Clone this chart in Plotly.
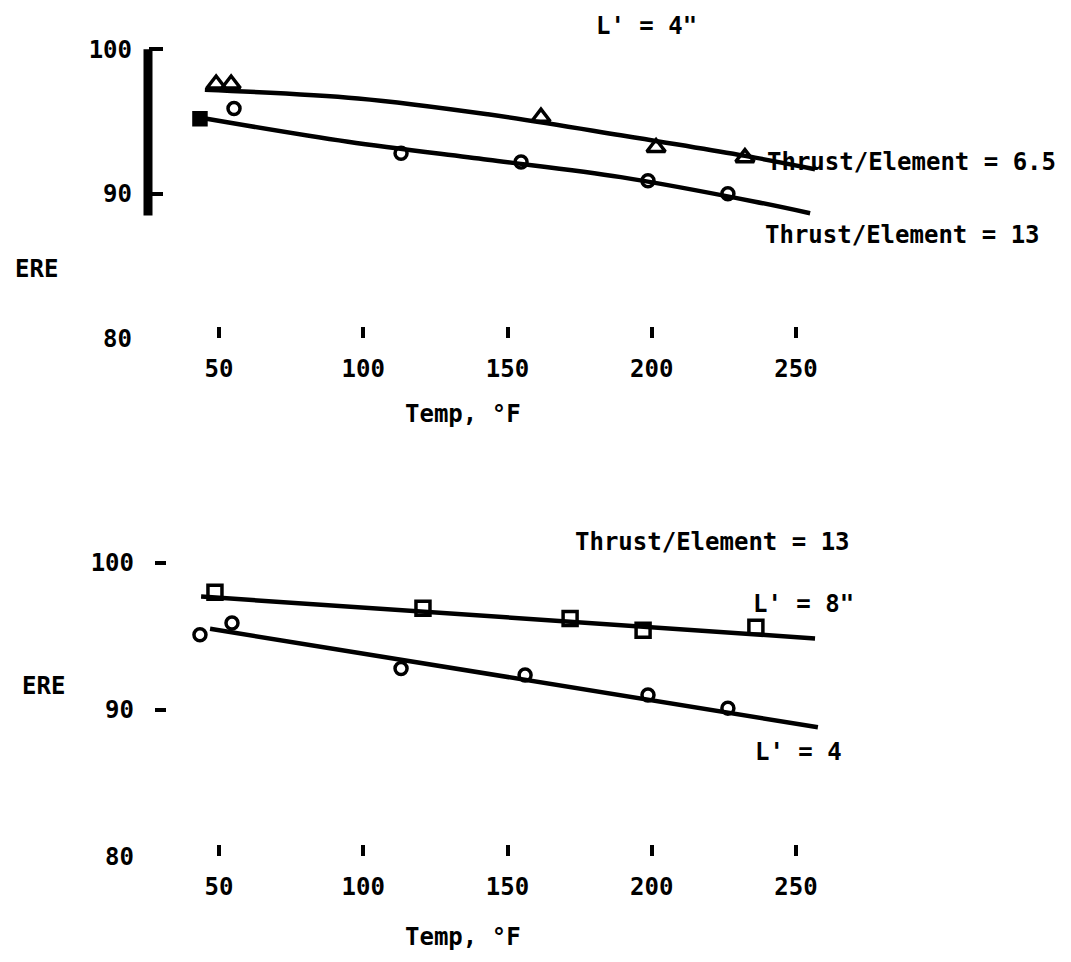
import plotly.graph_objects as go

W, H = 1071, 962

# ---------------- data ----------------
tick_vals_x = [50, 100, 150, 200, 250]
tick_vals_y = [80, 90, 100]

# Top panel (L' = 4")
temp_t65 = [49.0, 54.2, 161.6, 201.5, 232.3]          # Thrust/Element = 6.5 (triangles)
ere_t65 = [97.6, 97.6, 95.3, 93.2, 92.5]
temp_t13 = [43.4, 55.2, 113.1, 154.7, 198.7, 226.4]   # Thrust/Element = 13 (circles)
ere_t13 = [95.2, 95.9, 92.8, 92.2, 90.9, 90.0]

fit_t65_temp = [45.1, 98.2, 143.2, 189.3, 235.8, 256.6]
fit_t65_ere = [97.2, 96.6, 95.5, 94.05, 92.5, 91.7]
fit_t13_temp = [42.7, 94.7, 143.2, 189.3, 235.8, 254.9]
fit_t13_ere = [95.3, 93.6, 92.35, 91.15, 89.45, 88.65]

# Bottom panel (Thrust/Element = 13)
temp_l8 = [48.6, 120.7, 171.7, 197.0, 236.1]          # L' = 8" (squares)
ere_l8 = [98.0, 96.9, 96.2, 95.4, 95.6]
temp_l4 = [43.4, 54.5, 113.1, 156.1, 198.7, 226.4]    # L' = 4 (circles)
ere_l4 = [95.1, 95.9, 92.8, 92.35, 91.0, 90.1]

fit_l8_temp = [43.8, 256.6]
fit_l8_ere = [97.7, 94.85]
fit_l4_temp = [46.9, 257.6]
fit_l4_ere = [95.5, 88.8]

FONT = "DejaVu Sans Mono"
FS = 24


def pxx(x):
    return x / W


def pyy(y):
    return 1 - y / H


fig = go.Figure()

line_style = dict(color="black", width=4.5)

# top panel
fig.add_trace(go.Scatter(x=fit_t65_temp, y=fit_t65_ere, mode="lines", line=line_style,
                         line_shape="spline", xaxis="x", yaxis="y", showlegend=False))
fig.add_trace(go.Scatter(x=fit_t13_temp, y=fit_t13_ere, mode="lines", line=line_style,
                         line_shape="spline", xaxis="x", yaxis="y", showlegend=False))
fig.add_trace(go.Scatter(x=temp_t65, y=ere_t65, mode="markers", xaxis="x", yaxis="y",
                         marker=dict(symbol="triangle-up-open", size=16, color="black",
                                     line=dict(width=3.5, color="black")), showlegend=False))
fig.add_trace(go.Scatter(x=temp_t13, y=ere_t13, mode="markers", xaxis="x", yaxis="y",
                         marker=dict(symbol=["square"] + ["circle-open"] * 5, size=12, color="black",
                                     line=dict(width=3.5, color="black")), showlegend=False))

# bottom panel
fig.add_trace(go.Scatter(x=fit_l8_temp, y=fit_l8_ere, mode="lines", line=line_style,
                         xaxis="x2", yaxis="y2", showlegend=False))
fig.add_trace(go.Scatter(x=fit_l4_temp, y=fit_l4_ere, mode="lines", line=line_style,
                         xaxis="x2", yaxis="y2", showlegend=False))
fig.add_trace(go.Scatter(x=temp_l8, y=ere_l8, mode="markers", xaxis="x2", yaxis="y2",
                         marker=dict(symbol="square-open", size=14, color="black",
                                     line=dict(width=3.5, color="black")), showlegend=False))
fig.add_trace(go.Scatter(x=temp_l4, y=ere_l4, mode="markers", xaxis="x2", yaxis="y2",
                         marker=dict(symbol="circle-open", size=12, color="black",
                                     line=dict(width=3.5, color="black")), showlegend=False))

x_range = [-23.14, 348.1]
tfont = dict(family=FONT, size=FS, color="black", weight="bold")
xcommon = dict(range=x_range, domain=[0, 1], tickvals=tick_vals_x, ticks="inside",
               ticklen=11, tickwidth=4, tickcolor="black", showline=False, showgrid=False,
               zeroline=False, ticklabelstandoff=14, tickfont=tfont)
ycommon = dict(range=[80, 101.5], tickvals=tick_vals_y, ticks="inside", tickcolor="black",
               showgrid=False, zeroline=False, showline=False, anchor="free",
               tickfont=tfont)

fig.update_layout(
    width=W, height=H, margin=dict(l=0, r=0, t=0, b=0),
    paper_bgcolor="white", plot_bgcolor="white",
    xaxis=dict(anchor="y", **xcommon),
    xaxis2=dict(anchor="y2", **xcommon),
    yaxis=dict(domain=[pyy(335), pyy(20)], position=pxx(140), ticklen=14, tickwidth=4,
               ticklabelstandoff=16, **ycommon),
    yaxis2=dict(domain=[pyy(861), pyy(540.6)], position=pxx(146), ticklen=11, tickwidth=4,
                ticklabelstandoff=20, **ycommon),
    shapes=[dict(type="line", xref="paper", yref="y", x0=pxx(140), x1=pxx(140), y0=88.5, y1=100,
                 line=dict(color="black", width=9))],
)

ann_font = dict(family=FONT, size=FS, color="black", weight="bold")
annotations = [
    dict(text="L' = 4\"", x=pxx(638), y=pyy(18)),
    dict(text="Thrust/Element = 6.5", x=pxx(757), y=pyy(156), xanchor="left"),
    dict(text="Thrust/Element = 13", x=pxx(755), y=pyy(230), xanchor="left"),
    dict(text="ERE", x=pxx(5), y=pyy(265), xanchor="left"),
    dict(text="Temp, °F", x=pxx(455), y=pyy(412)),
    dict(text="Thrust/Element = 13", x=pxx(565), y=pyy(542), xanchor="left"),
    dict(text="L' = 8\"", x=pxx(743), y=pyy(605), xanchor="left"),
    dict(text="L' = 4", x=pxx(745), y=pyy(755), xanchor="left"),
    dict(text="ERE", x=pxx(12), y=pyy(688), xanchor="left"),
    dict(text="Temp, °F", x=pxx(455), y=pyy(943)),
]
for a in annotations:
    a.setdefault("xanchor", "center")
    fig.add_annotation(xref="paper", yref="paper", yanchor="middle", showarrow=False,
                       font=ann_font, **a)

fig.write_html("out.html")
